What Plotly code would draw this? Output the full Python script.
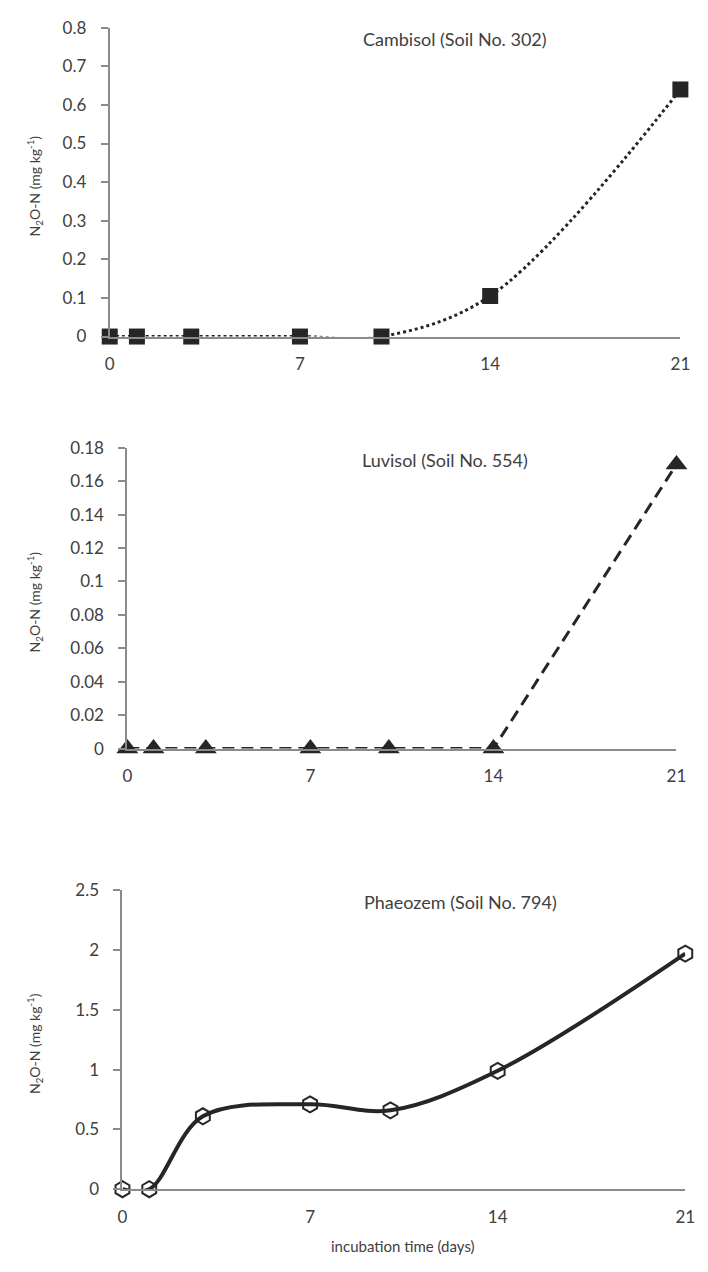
import plotly.graph_objects as go

days = [0, 1, 3, 7, 10, 14, 21]
cambisol = [0, 0, 0, 0, 0, 0.105, 0.64]
luvisol = [0, 0, 0, 0, 0, 0, 0.17]
phaeozem = [0, 0, 0.61, 0.71, 0.66, 0.99, 1.97]

x_ticks = [0, 7, 14, 21]
y1_ticks = [0, 0.1, 0.2, 0.3, 0.4, 0.5, 0.6, 0.7, 0.8]
y1_text = ["0", "0.1", "0.2", "0.3", "0.4", "0.5", "0.6", "0.7", "0.8"]
y2_ticks = [0, 0.02, 0.04, 0.06, 0.08, 0.1, 0.12, 0.14, 0.16, 0.18]
y2_text = ["0", "0.02", "0.04", "0.06", "0.08", "0.1", "0.12", "0.14", "0.16", "0.18"]
y3_ticks = [0, 0.5, 1, 1.5, 2, 2.5]
y3_text = ["0", "0.5", "1", "1.5", "2", "2.5"]

titles = ["Cambisol (Soil No. 302)", "Luvisol (Soil No. 554)", "Phaeozem (Soil No. 794)"]
ytitle = "N<sub>2</sub>O-N (mg kg<sup>-1</sup>)"
xtitle = "incubation time (days)"

W, H = 708, 1272
FONT = "Lato, 'Open Sans', sans-serif"
DARK = "#262626"
AX = "#878c93"
TXT = "#404040"

fig = go.Figure()
fig.add_trace(go.Scatter(
    x=days, y=cambisol, mode="lines+markers", xaxis="x", yaxis="y",
    line=dict(color=DARK, width=3, dash="dot", shape="spline", smoothing=1),
    marker=dict(symbol="square", size=16, color=DARK),
    cliponaxis=False, showlegend=False))
fig.add_trace(go.Scatter(
    x=days, y=luvisol, mode="lines+markers", xaxis="x2", yaxis="y2",
    line=dict(color=DARK, width=3, dash="12px,7px"),
    marker=dict(symbol="triangle-up", size=19, color=DARK),
    cliponaxis=False, showlegend=False))
fig.add_trace(go.Scatter(
    x=days, y=phaeozem, mode="lines+markers", xaxis="x3", yaxis="y3",
    line=dict(color=DARK, width=4, shape="spline", smoothing=1),
    marker=dict(symbol="hexagon-open", size=16, color=DARK, line=dict(width=2, color=DARK)),
    cliponaxis=False, showlegend=False))


def px_x(p):
    return p / W


def px_y(p):
    return (H - p) / H


panels = [
    dict(x0=107, x1=690, ytop=17, ybot=331, ticks=y1_ticks, text=y1_text, rng=[0, 0.8]),
    dict(x0=125, x1=686, ytop=444, ybot=750, ticks=y2_ticks, text=y2_text, rng=[0, 0.18]),
    dict(x0=120, x1=695, ytop=894, ybot=1198, ticks=y3_ticks, text=y3_text, rng=[0, 2.5]),
]

layout = dict(
    width=W, height=H, margin=dict(l=0, r=0, t=0, b=0),
    paper_bgcolor="white", plot_bgcolor="white",
    font=dict(family=FONT, color=TXT, size=16),
)
annotations = []
for i, p in enumerate(panels):
    sfx = "" if i == 0 else str(i + 1)
    layout["xaxis" + sfx] = dict(
        domain=[px_x(p["x0"]), px_x(p["x1"])], range=[0, 21],
        anchor="y" + sfx, tickvals=x_ticks, ticktext=[str(t) for t in x_ticks],
        showline=True, linecolor=AX, linewidth=2, showgrid=False, zeroline=False,
        ticks="outside", ticklen=11, tickcolor="rgba(0,0,0,0)",
        tickfont=dict(size=17, family=FONT, color=TXT), fixedrange=True)
    layout["yaxis" + sfx] = dict(
        domain=[px_y(p["ybot"]), px_y(p["ytop"])], range=p["rng"],
        anchor="x" + sfx, tickvals=p["ticks"], ticktext=p["text"],
        showline=True, linecolor=AX, linewidth=2, showgrid=False, zeroline=False,
        ticks="outside", ticklen=7, tickwidth=2, tickcolor=AX, ticklabelstandoff=11,
        tickfont=dict(size=17, family=FONT, color=TXT), fixedrange=True)
    annotations.append(dict(
        text=ytitle, textangle=-90, xref="paper", yref="paper",
        x=px_x(30), y=px_y((p["ytop"] + p["ybot"]) / 2 + 4), xanchor="center", yanchor="middle",
        showarrow=False, font=dict(size=14, family=FONT, color=TXT)))

title_pos = [(460, 28), (450, 457), (465, 906)]
for t, (tx, ty) in zip(titles, title_pos):
    annotations.append(dict(
        text=t, xref="paper", yref="paper", x=px_x(tx), y=px_y(ty),
        xanchor="center", yanchor="middle", showarrow=False,
        font=dict(size=18, family=FONT, color=TXT)))

annotations.append(dict(
    text=xtitle, xref="paper", yref="paper", x=px_x(407), y=px_y(1256),
    xanchor="center", yanchor="middle", showarrow=False,
    font=dict(size=15, family=FONT, color=TXT)))

layout["annotations"] = annotations
fig.update_layout(**layout)
fig.write_html("out.html")
